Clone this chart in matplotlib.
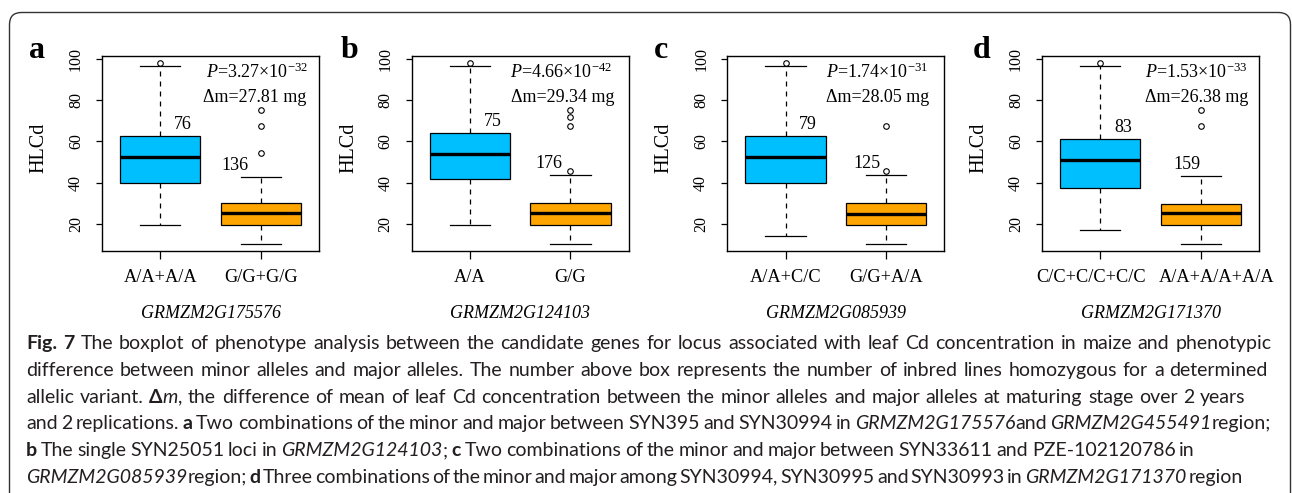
import re
import matplotlib
matplotlib.use('Agg')
import matplotlib.pyplot as plt
from matplotlib.patches import FancyBboxPatch
from matplotlib.transforms import ScaledTranslation

W, H, DPI = 1292, 493, 100

# ---------------- data ----------------
panel_letters = ['a', 'b', 'c', 'd']
genes = ['GRMZM2G175576', 'GRMZM2G124103', 'GRMZM2G085939', 'GRMZM2G171370']
minor_labels = ['A/A+A/A', 'A/A', 'A/A+C/C', 'C/C+C/C+C/C']
major_labels = ['G/G+G/G', 'G/G', 'G/G+A/A', 'A/A+A/A+A/A']
minor_n = [76, 75, 79, 83]
major_n = [136, 176, 125, 159]
p_mant = ['3.27', '4.66', '1.74', '1.53']
p_exp = ['-32', '-42', '-31', '-33']
delta_m = ['27.81', '29.34', '28.05', '26.38']

minor_q1 = [40.1, 41.9, 40.1, 37.6]
minor_med = [52.6, 53.7, 52.6, 50.8]
minor_q3 = [62.8, 64.0, 62.8, 61.3]
minor_lo = [19.5, 19.5, 14.3, 17.2]
minor_hi = [96.4, 96.4, 96.4, 96.4]
minor_out = [[97.9], [97.9], [97.9], [97.9]]

major_q1 = [19.4, 19.8, 19.4, 19.8]
major_med = [25.5, 25.5, 24.9, 25.5]
major_q3 = [30.0, 30.0, 30.0, 29.7]
major_lo = [10.5, 10.5, 10.5, 10.5]
major_hi = [43.0, 43.8, 43.8, 43.2]
major_out = [[54.5, 67.4, 75.0], [45.6, 67.4, 71.8, 75.0], [45.6, 67.4], [67.4, 75.0]]

yticks = [20, 40, 60, 80, 100]

caption_lines = [
    [("Fig. 7", 'b'), (" The boxplot of phenotype analysis between the candidate genes for locus associated with leaf Cd concentration in maize and phenotypic", 'r')],
    [("difference between minor alleles and major alleles. The number above box represents the number of inbred lines homozygous for a determined", 'r')],
    [("allelic variant. ", 'r'), ("\u0394", 'b'), ("m", 'i'), (", the difference of mean of leaf Cd concentration between the minor alleles and major alleles at maturing stage over 2 years", 'r')],
    [("and 2 replications. ", 'r'), ("a", 'b'), (" Two combinations of the minor and major between SYN395 and SYN30994 in ", 'r'), ("GRMZM2G175576", 'i'), ("and ", 'r'), ("GRMZM2G455491", 'i'), ("region;", 'r')],
    [("b", 'b'), (" The single SYN25051 loci in ", 'r'), ("GRMZM2G124103", 'i'), ("; ", 'r'), ("c", 'b'), (" Two combinations of the minor and major between SYN33611 and PZE-102120786 in", 'r')],
    [("GRMZM2G085939", 'i'), ("region; ", 'r'), ("d", 'b'), (" Three combinations of the minor and major among SYN30994, SYN30995 and SYN30993 in ", 'r'), ("GRMZM2G171370", 'i'), (" region", 'r')],
]

# ---------------- layout / style ----------------
plt.rcParams['font.family'] = ['Liberation Serif', 'DejaVu Serif']
plt.rcParams['mathtext.fontset'] = 'custom'
plt.rcParams['mathtext.rm'] = 'Liberation Serif'
plt.rcParams['mathtext.it'] = 'Liberation Serif:italic'
plt.rcParams['mathtext.bf'] = 'Liberation Serif:bold'

BLUE = '#00BFFF'
ORANGE = '#FFA500'

fig = plt.figure(figsize=(W / DPI, H / DPI), dpi=DPI)


def fx(px):
    return px / W


def fy(py):
    return 1 - py / H


axes_left = [102, 411.7, 727.3, 1042]
axes_w = 217
axes_top, axes_bot = 56, 251
letter_x = [37, 349.5, 661, 981.7]
major_dx = [-0.26, -0.21, -0.19, -0.14]
p_x = [1.46, 1.40, 1.40, 1.45]
d_x = [1.43, 1.41, 1.40, 1.45]
xlab_dx = [(0, 0), (0, 0), (0, 0), (-9, 16)]

# rounded frame
frame = FancyBboxPatch((9.5, -30), 1281, 480.5 + 30,
                       boxstyle='round,pad=0,rounding_size=12',
                       transform=None, fill=False, edgecolor='#333333', linewidth=1.0)
fig.add_artist(frame)

for i in range(4):
    l = axes_left[i]
    ax = fig.add_axes([fx(l), fy(axes_bot), axes_w / W, (axes_bot - axes_top) / H])
    stats = [
        dict(med=minor_med[i], q1=minor_q1[i], q3=minor_q3[i],
             whislo=minor_lo[i], whishi=minor_hi[i], fliers=minor_out[i]),
        dict(med=major_med[i], q1=major_q1[i], q3=major_q3[i],
             whislo=major_lo[i], whishi=major_hi[i], fliers=major_out[i]),
    ]
    bp = ax.bxp(stats, positions=[1, 2], widths=0.8, capwidths=0.4,
                patch_artist=True, showfliers=True,
                boxprops=dict(linewidth=0.9, edgecolor='black'),
                medianprops=dict(color='black', linewidth=2.4, solid_capstyle='butt'),
                whiskerprops=dict(linestyle=(0, (4, 4)), linewidth=0.9, color='black'),
                capprops=dict(linewidth=0.9, color='black'),
                flierprops=dict(marker='o', markersize=4, markerfacecolor='none',
                                markeredgecolor='black', markeredgewidth=0.8))
    bp['boxes'][0].set_facecolor(BLUE)
    bp['boxes'][1].set_facecolor(ORANGE)
    ax.set_xlim(0.42, 2.58)
    ax.set_ylim(7, 101.3)
    ax.set_yticks(yticks)
    ax.set_yticklabels([str(v) for v in yticks])
    ax.set_xticks([1, 2])
    ax.set_xticklabels([minor_labels[i], major_labels[i]])
    ax.tick_params(axis='y', length=4.5, width=0.9, labelsize=11.5, pad=8.5, labelrotation=90)
    for lab in ax.get_yticklabels():
        lab.set_va('center')
    ax.tick_params(axis='x', length=5.8, width=0.9, labelsize=13.2, pad=7)
    for lab, dx in zip(ax.get_xticklabels(), xlab_dx[i]):
        lab.set_transform(lab.get_transform() + ScaledTranslation(dx / DPI, 0, fig.dpi_scale_trans))
    for sp in ax.spines.values():
        sp.set_linewidth(1.0)

    ax.text(1.225, minor_q3[i] + 5.5, str(minor_n[i]), ha='center', va='center', size=13)
    ax.text(2 + major_dx[i], major_hi[i] + 5.5, str(major_n[i]), ha='center', va='center', size=13)
    ax.text(p_x[i], 90.8, r'$\mathit{P}$=' + p_mant[i] + '\u00d710' + r'$^{' + p_exp[i] + '}$',
            ha='left', va='baseline', size=13)
    ax.text(d_x[i], 79.0, '\u0394m=' + delta_m[i] + ' mg', ha='left', va='baseline', size=13)

    fig.text(fx(l + axes_w / 2), fy(313), genes[i], style='italic', size=13,
             ha='center', va='center')
    fig.text(fx(l - 63), fy(148), 'HLCd', rotation=90, size=14.5, ha='center', va='center')
    fig.text(fx(letter_x[i]), fy(58), panel_letters[i], weight='bold', size=23,
             ha='center', va='baseline')

# ---------------- caption ----------------
CAP_FONT = 'Lato'
CAP_COLOR = '#231f20'
renderer = fig.canvas.get_renderer()
_wcache = {}


def style_kw(st):
    kw = dict(family=CAP_FONT)
    if st == 'b':
        kw['weight'] = 'bold'
    elif st == 'i':
        kw['style'] = 'italic'
    return kw


def seg_width(s, size, st):
    key = (s, size, st)
    if key in _wcache:
        return _wcache[key]
    t = fig.text(0, 0, '|' + s + '|', size=size, **style_kw(st))
    w1 = t.get_window_extent(renderer).width
    t.set_text('||')
    w2 = t.get_window_extent(renderer).width
    t.remove()
    _wcache[key] = w1 - w2
    return w1 - w2


def tokens_of(line):
    toks = []
    for s, st in line:
        for p in re.split(r'( )', s):
            if p:
                toks.append((p, st))
    return toks


x0 = 26
line_ends = [1271.7, 1268, 1245.7, 1270.7, 1195, 1243]
all_tokens = [tokens_of(line) for line in caption_lines]

base = 12.0
nat = sum(seg_width(p, base, st) for toks in all_tokens for p, st in toks)
cap_size = base * sum(e - x0 for e in line_ends) / nat

for k, toks in enumerate(all_tokens):
    yb = 349.3 + 26.7 * k
    natural = sum(seg_width(p, cap_size, st) for p, st in toks)
    nsp = sum(1 for p, st in toks if p == ' ')
    extra = (line_ends[k] - x0 - natural) / max(nsp, 1)
    x = x0
    for p, st in toks:
        w = seg_width(p, cap_size, st)
        if p == ' ':
            x += w + extra
        else:
            fig.text(fx(x), fy(yb), p, size=cap_size, color=CAP_COLOR, ha='left',
                     va='baseline', **style_kw(st))
            x += w

fig.savefig('out.png', dpi=DPI)
